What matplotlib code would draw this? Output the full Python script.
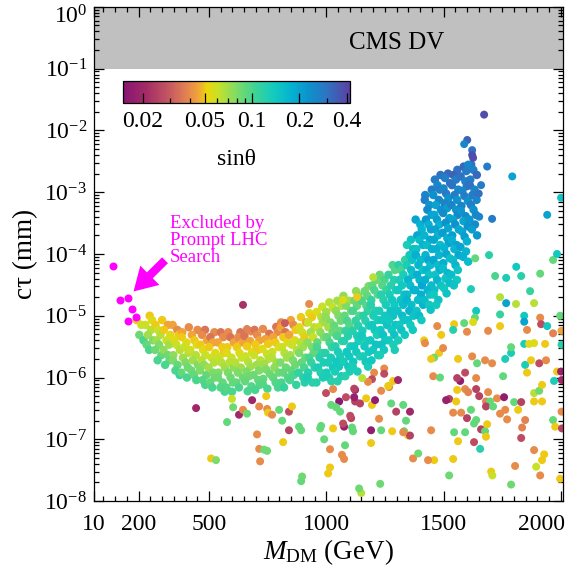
import matplotlib
matplotlib.use('Agg')
import matplotlib.pyplot as plt
import matplotlib.transforms as mtransforms
from matplotlib.colors import LinearSegmentedColormap, LogNorm
from matplotlib.patches import FancyArrowPatch
from matplotlib.ticker import FixedLocator, MultipleLocator, NullFormatter

plt.rcParams['font.family'] = 'Liberation Serif'
plt.rcParams['mathtext.fontset'] = 'custom'
plt.rcParams['mathtext.rm'] = 'Liberation Serif'
plt.rcParams['mathtext.it'] = 'Liberation Serif:italic'

# dense band of points (mass in GeV, ctau in mm, sin theta)
band_mass = [
    192, 212, 203, 221,
    247, 257, 229, 253, 240, 262, 234, 245,
    300, 272, 283, 293, 276, 287, 270, 297, 281,
    325, 308, 335, 319, 330, 306, 326, 332, 313,
    345, 365, 371, 352, 361, 376, 348, 346, 366, 357, 375,
    414, 386, 384, 404, 395, 413, 389, 400, 410, 382, 406,
    451, 427, 438, 448, 420, 444, 431, 453, 425, 436, 446,
    483, 470, 492, 464, 475, 485, 468, 479, 462, 489, 473, 484,
    523, 506, 517, 500, 527, 511, 522, 498, 518, 524, 505, 514,
    550, 561, 537, 557, 563, 544, 553, 568, 540, 538, 558, 549, 567,
    582, 591, 606, 578, 576, 596, 587, 605, 581, 592, 602, 574, 598,
    634, 625, 643, 619, 630, 640, 612, 636, 623, 645, 617, 628,
    679, 651, 675, 662, 684, 656, 667, 677, 660, 671, 654, 681, 665,
    694, 705, 715, 698, 709, 692, 719, 703, 714, 690, 710, 716, 697,
    730, 757, 741, 752, 728, 748, 754, 735, 744, 759, 731, 729, 749,
    787, 793, 774, 783, 798, 770, 768, 788, 779, 797, 773, 784, 794,
    808, 806, 826, 817, 835, 811, 822, 832, 804, 828, 815, 837, 809, 820,
    849, 860, 870, 842, 866, 853, 875, 847, 858, 868, 851, 862, 845, 872,
    892, 914, 886, 897, 907, 890, 901, 884, 911, 895, 906, 882, 902, 908,
    928, 939, 922, 949, 933, 944, 920, 940, 946, 927, 936, 951, 923, 921, 941,
    983, 959, 979, 985, 966, 975, 990, 962, 960, 980, 971, 989, 965, 976, 986, 958,
    1013, 1028, 1000, 998, 1018, 1009, 1027, 1003, 1014, 1024, 996, 1020, 1007, 1029, 1001, 1012, 1022,
    1047, 1065, 1041, 1052, 1062, 1034, 1058, 1045, 1067, 1039, 1050, 1060, 1043, 1054, 1037, 1064, 1048,
    1073, 1097, 1084, 1106, 1078, 1089, 1099, 1082, 1093, 1076, 1103, 1087, 1098, 1074, 1094, 1100, 1081,
    1127, 1137, 1120, 1131, 1114, 1141, 1125, 1136, 1112, 1132, 1138, 1119, 1128, 1143, 1115, 1113, 1133,
    1180, 1164, 1175, 1151, 1171, 1177, 1158, 1167, 1182, 1154, 1152, 1172, 1163, 1181, 1157, 1168, 1178,
    1215, 1196, 1205, 1220, 1192, 1190, 1210, 1201, 1219, 1195, 1206, 1216, 1188, 1212, 1199, 1221, 1193,
    1228, 1248, 1239, 1257, 1233, 1244, 1254, 1226, 1250, 1237, 1259, 1231, 1242, 1252, 1235, 1246, 1229,
    1283, 1293, 1265, 1289, 1276, 1298, 1270, 1281, 1291, 1274, 1285, 1268, 1295, 1279, 1290, 1266, 1286, 1292,
    1336, 1308, 1319, 1329, 1312, 1323, 1306, 1333, 1317, 1328, 1304, 1324, 1330, 1311, 1320, 1335, 1307,
    1361, 1344, 1371, 1355, 1366, 1342, 1362, 1368, 1349, 1358, 1373, 1345, 1343, 1363, 1354, 1372, 1348, 1359, 1369,
    1381, 1401, 1407, 1388, 1397, 1412, 1384, 1382, 1402, 1393, 1411, 1387, 1398, 1408, 1380, 1404, 1391, 1413, 1385, 1396, 1406,
    1450, 1422, 1420, 1440, 1431, 1449, 1425, 1436, 1446, 1418, 1442, 1429, 1451, 1423, 1434, 1444, 1427, 1438, 1421, 1448, 1432, 1443, 1419, 1439, 1445,
    1487, 1463, 1474, 1484, 1456, 1480, 1467, 1489, 1461, 1472, 1482, 1465, 1476, 1459, 1486, 1470, 1481, 1457, 1477, 1483, 1464, 1473, 1488, 1460, 1458, 1478, 1469,
    1519, 1506, 1528, 1500, 1511, 1521, 1504, 1515, 1498, 1525, 1509, 1520, 1496, 1516, 1522, 1503, 1512, 1527, 1499, 1497, 1517, 1508, 1526, 1502, 1513,
    1559, 1542, 1553, 1536, 1563, 1547, 1558, 1534, 1554, 1560, 1541, 1550, 1565, 1537, 1535, 1555, 1546, 1564, 1540, 1551, 1561, 1533, 1557, 1544,
    1586, 1597, 1573, 1593, 1599, 1580, 1589, 1604, 1576, 1574, 1594, 1585, 1603, 1579, 1590, 1600, 1572, 1596, 1583, 1605,
    1618, 1627, 1642, 1614, 1612, 1632, 1623, 1641, 1617, 1628, 1638, 1610, 1634, 1621, 1643,
]
band_ctau = [
    8.5e-6, 7.1e-6, 4.9e-6, 4.0e-6,
    1.0e-5, 8.5e-6, 7.1e-6, 5.9e-6, 4.9e-6, 4.0e-6, 3.4e-6, 2.8e-6,
    8.5e-6, 7.1e-6, 5.9e-6, 4.9e-6, 4.0e-6, 3.4e-6, 2.8e-6, 2.3e-6, 1.9e-6,
    7.1e-6, 5.9e-6, 4.9e-6, 4.0e-6, 3.4e-6, 2.8e-6, 2.3e-6, 1.9e-6, 1.6e-6,
    7.1e-6, 5.9e-6, 4.9e-6, 4.0e-6, 3.4e-6, 2.8e-6, 2.3e-6, 1.9e-6, 1.6e-6, 1.3e-6, 1.1e-6,
    6.5e-6, 5.4e-6, 4.5e-6, 3.7e-6, 3.1e-6, 2.5e-6, 2.1e-6, 1.75e-6, 1.45e-6, 1.2e-6, 1.0e-6,
    5.9e-6, 4.9e-6, 4.0e-6, 3.4e-6, 2.8e-6, 2.3e-6, 1.9e-6, 1.6e-6, 1.3e-6, 1.1e-6, 9.1e-7,
    5.9e-6, 4.9e-6, 4.0e-6, 3.4e-6, 2.8e-6, 2.3e-6, 1.9e-6, 1.6e-6, 1.3e-6, 1.1e-6, 9.1e-7, 7.6e-7,
    5.4e-6, 4.5e-6, 3.7e-6, 3.1e-6, 2.5e-6, 2.1e-6, 1.75e-6, 1.45e-6, 1.2e-6, 1.0e-6, 8.3e-7, 6.9e-7,
    5.4e-6, 4.5e-6, 3.7e-6, 3.1e-6, 2.5e-6, 2.1e-6, 1.75e-6, 1.45e-6, 1.2e-6, 1.0e-6, 8.3e-7, 6.9e-7, 5.9e-7,
    5.4e-6, 4.5e-6, 3.7e-6, 3.1e-6, 2.5e-6, 2.1e-6, 1.75e-6, 1.45e-6, 1.2e-6, 1.0e-6, 8.3e-7, 6.9e-7, 5.9e-7,
    5.4e-6, 4.5e-6, 3.7e-6, 3.1e-6, 2.5e-6, 2.1e-6, 1.75e-6, 1.45e-6, 1.2e-6, 1.0e-6, 8.3e-7, 6.9e-7,
    5.6e-6, 4.7e-6, 3.9e-6, 3.2e-6, 2.6e-6, 2.2e-6, 1.8e-6, 1.5e-6, 1.25e-6, 1.05e-6, 8.7e-7, 7.2e-7, 6.0e-7,
    5.9e-6, 4.9e-6, 4.0e-6, 3.4e-6, 2.8e-6, 2.3e-6, 1.9e-6, 1.6e-6, 1.3e-6, 1.1e-6, 9.1e-7, 7.6e-7, 6.3e-7,
    6.1e-6, 5.1e-6, 4.2e-6, 3.5e-6, 2.9e-6, 2.4e-6, 2.0e-6, 1.65e-6, 1.35e-6, 1.15e-6, 9.5e-7, 7.9e-7, 6.6e-7,
    6.6e-6, 5.5e-6, 4.5e-6, 3.7e-6, 3.1e-6, 2.6e-6, 2.1e-6, 1.75e-6, 1.45e-6, 1.2e-6, 1.0e-6, 8.3e-7, 6.9e-7,
    7.8e-6, 6.5e-6, 5.4e-6, 4.5e-6, 3.7e-6, 3.1e-6, 2.5e-6, 2.1e-6, 1.75e-6, 1.45e-6, 1.2e-6, 1.0e-6, 8.3e-7, 6.9e-7,
    8.5e-6, 7.1e-6, 5.9e-6, 4.9e-6, 4.0e-6, 3.4e-6, 2.8e-6, 2.3e-6, 1.9e-6, 1.6e-6, 1.3e-6, 1.1e-6, 9.1e-7, 7.6e-7,
    9.5e-6, 7.8e-6, 6.5e-6, 5.4e-6, 4.5e-6, 3.7e-6, 3.1e-6, 2.5e-6, 2.1e-6, 1.75e-6, 1.45e-6, 1.2e-6, 1.0e-6, 8.3e-7,
    1.1e-5, 9.5e-6, 7.8e-6, 6.5e-6, 5.4e-6, 4.5e-6, 3.7e-6, 3.1e-6, 2.5e-6, 2.1e-6, 1.75e-6, 1.45e-6, 1.2e-6, 1.0e-6, 8.3e-7,
    1.4e-5, 1.15e-5, 9.5e-6, 7.8e-6, 6.5e-6, 5.4e-6, 4.5e-6, 3.7e-6, 3.1e-6, 2.5e-6, 2.1e-6, 1.75e-6, 1.45e-6, 1.2e-6, 1.0e-6, 8.3e-7,
    1.65e-5, 1.35e-5, 1.15e-5, 9.5e-6, 7.8e-6, 6.5e-6, 5.4e-6, 4.5e-6, 3.7e-6, 3.1e-6, 2.5e-6, 2.1e-6, 1.75e-6, 1.45e-6, 1.2e-6, 1.0e-6, 8.7e-7,
    1.75e-5, 1.45e-5, 1.2e-5, 1.0e-5, 8.3e-6, 6.9e-6, 5.7e-6, 4.7e-6, 3.9e-6, 3.2e-6, 2.6e-6, 2.2e-6, 1.8e-6, 1.5e-6, 1.25e-6, 1.05e-6, 8.7e-7,
    2.1e-5, 1.75e-5, 1.45e-5, 1.2e-5, 1.0e-5, 8.3e-6, 6.9e-6, 5.7e-6, 4.7e-6, 3.9e-6, 3.2e-6, 2.6e-6, 2.2e-6, 1.8e-6, 1.5e-6, 1.25e-6, 1.05e-6,
    2.5e-5, 2.1e-5, 1.75e-5, 1.45e-5, 1.2e-5, 1.0e-5, 8.3e-6, 6.9e-6, 5.7e-6, 4.7e-6, 3.9e-6, 3.2e-6, 2.6e-6, 2.2e-6, 1.8e-6, 1.5e-6, 1.25e-6,
    3.0e-5, 2.5e-5, 2.1e-5, 1.75e-5, 1.45e-5, 1.2e-5, 1.0e-5, 8.3e-6, 6.9e-6, 5.7e-6, 4.7e-6, 3.9e-6, 3.2e-6, 2.6e-6, 2.2e-6, 1.8e-6, 1.5e-6,
    3.8e-5, 3.1e-5, 2.6e-5, 2.2e-5, 1.8e-5, 1.5e-5, 1.2e-5, 1.0e-5, 8.5e-6, 7.1e-6, 5.9e-6, 4.9e-6, 4.0e-6, 3.4e-6, 2.8e-6, 2.3e-6, 1.9e-6,
    4.6e-5, 3.8e-5, 3.1e-5, 2.6e-5, 2.2e-5, 1.8e-5, 1.5e-5, 1.2e-5, 1.0e-5, 8.5e-6, 7.1e-6, 5.9e-6, 4.9e-6, 4.0e-6, 3.4e-6, 2.8e-6, 2.3e-6,
    6.6e-5, 5.5e-5, 4.6e-5, 3.8e-5, 3.1e-5, 2.6e-5, 2.2e-5, 1.8e-5, 1.5e-5, 1.2e-5, 1.0e-5, 8.5e-6, 7.1e-6, 5.9e-6, 4.9e-6, 4.0e-6, 3.4e-6, 2.8e-6,
    8.0e-5, 6.6e-5, 5.5e-5, 4.6e-5, 3.8e-5, 3.1e-5, 2.6e-5, 2.2e-5, 1.8e-5, 1.5e-5, 1.2e-5, 1.0e-5, 8.5e-6, 7.1e-6, 5.9e-6, 4.9e-6, 4.0e-6,
    1.7e-4, 1.4e-4, 1.2e-4, 9.6e-5, 8.0e-5, 6.6e-5, 5.5e-5, 4.6e-5, 3.8e-5, 3.1e-5, 2.6e-5, 2.2e-5, 1.8e-5, 1.5e-5, 1.2e-5, 1.0e-5, 8.5e-6, 7.1e-6, 5.9e-6,
    3.6e-4, 3.0e-4, 2.5e-4, 2.0e-4, 1.7e-4, 1.4e-4, 1.2e-4, 9.6e-5, 8.0e-5, 6.6e-5, 5.5e-5, 4.6e-5, 3.8e-5, 3.1e-5, 2.6e-5, 2.2e-5, 1.8e-5, 1.5e-5, 1.2e-5, 1.0e-5, 8.5e-6,
    1.1e-3, 9.0e-4, 7.5e-4, 6.2e-4, 5.2e-4, 4.3e-4, 3.6e-4, 3.0e-4, 2.5e-4, 2.0e-4, 1.7e-4, 1.4e-4, 1.2e-4, 9.6e-5, 8.0e-5, 6.6e-5, 5.5e-5, 4.6e-5, 3.8e-5, 3.1e-5, 2.6e-5, 2.2e-5, 1.8e-5, 1.5e-5, 1.25e-5,
    1.9e-3, 1.6e-3, 1.3e-3, 1.1e-3, 9.0e-4, 7.5e-4, 6.2e-4, 5.2e-4, 4.3e-4, 3.6e-4, 3.0e-4, 2.5e-4, 2.0e-4, 1.7e-4, 1.4e-4, 1.2e-4, 9.6e-5, 8.0e-5, 6.6e-5, 5.5e-5, 4.6e-5, 3.8e-5, 3.1e-5, 2.6e-5, 2.2e-5, 1.8e-5, 1.5e-5,
    2.0e-3, 1.7e-3, 1.4e-3, 1.15e-3, 9.5e-4, 8.0e-4, 6.6e-4, 5.5e-4, 4.6e-4, 3.8e-4, 3.2e-4, 2.6e-4, 2.2e-4, 1.8e-4, 1.5e-4, 1.25e-4, 1.0e-4, 8.5e-5, 7.1e-5, 5.9e-5, 4.9e-5, 4.0e-5, 3.4e-5, 2.8e-5, 2.3e-5,
    2.3e-3, 1.9e-3, 1.6e-3, 1.3e-3, 1.1e-3, 9.0e-4, 7.5e-4, 6.2e-4, 5.2e-4, 4.3e-4, 3.6e-4, 3.0e-4, 2.5e-4, 2.0e-4, 1.7e-4, 1.4e-4, 1.2e-4, 9.6e-5, 8.0e-5, 6.6e-5, 5.5e-5, 4.6e-5, 3.8e-5, 3.1e-5,
    2.6e-3, 2.2e-3, 1.8e-3, 1.5e-3, 1.25e-3, 1.05e-3, 8.7e-4, 7.2e-4, 6.0e-4, 5.0e-4, 4.1e-4, 3.4e-4, 2.8e-4, 2.3e-4, 1.9e-4, 1.6e-4, 1.3e-4, 1.1e-4, 9.0e-5, 7.5e-5,
    2.8e-3, 2.3e-3, 1.9e-3, 1.6e-3, 1.3e-3, 1.1e-3, 9.0e-4, 7.5e-4, 6.2e-4, 5.2e-4, 4.3e-4, 3.6e-4, 3.0e-4, 2.5e-4, 2.0e-4,
]
band_sin = [
    .05, .06, .085, .1,
    .05, .055, .06, .065, .07, .08, .09, .1,
    .05, .05, .06, .065, .07, .08, .085, .09, .1,
    .045, .05, .055, .06, .07, .075, .085, .09, .1,
    .045, .04, .05, .055, .06, .065, .075, .08, .09, .1, .11,
    .04, .045, .05, .055, .06, .065, .07, .08, .085, .09, .1,
    .04, .045, .05, .055, .06, .065, .07, .08, .085, .09, .1,
    .035, .04, .045, .05, .055, .06, .065, .075, .08, .09, .095, .1,
    .04, .035, .045, .05, .055, .06, .065, .07, .08, .085, .09, .1,
    .035, .04, .045, .05, .05, .06, .065, .07, .08, .085, .09, .095, .1,
    .04, .035, .045, .05, .055, .06, .065, .075, .08, .085, .09, .095, .1,
    .035, .04, .045, .05, .055, .06, .065, .07, .08, .085, .09, .1,
    .04, .035, .045, .05, .055, .06, .065, .07, .08, .085, .09, .095, .1,
    .035, .04, .045, .05, .05, .06, .065, .07, .08, .085, .09, .095, .1,
    .04, .035, .045, .05, .055, .06, .065, .07, .08, .085, .09, .095, .1,
    .035, .04, .045, .05, .055, .06, .065, .07, .075, .085, .09, .095, .1,
    .04, .045, .035, .05, .055, .06, .065, .07, .08, .085, .09, .095, .1, .11,
    .045, .04, .05, .045, .055, .06, .065, .07, .08, .085, .09, .1, .1, .11,
    .05, .045, .055, .06, .05, .065, .07, .08, .085, .09, .1, .11, .12, .12,
    .055, .05, .06, .065, .07, .06, .075, .08, .09, .1, .11, .12, .12, .13, .12,
    .06, .055, .065, .07, .06, .075, .08, .09, .1, .11, .12, .13, .13, .12, .13, .12,
    .065, .06, .07, .075, .08, .07, .085, .09, .1, .11, .12, .13, .13, .14, .13, .13, .12,
    .07, .065, .075, .08, .085, .09, .09, .1, .11, .12, .13, .13, .14, .14, .13, .13, .12,
    .075, .07, .08, .085, .09, .1, .095, .11, .12, .12, .13, .14, .14, .13, .14, .13, .12,
    .075, .08, .085, .09, .1, .095, .11, .12, .12, .13, .13, .14, .14, .13, .14, .13, .13,
    .08, .085, .09, .1, .095, .11, .12, .12, .13, .13, .14, .13, .14, .14, .13, .14, .13,
    .085, .09, .1, .095, .11, .12, .12, .13, .13, .14, .14, .13, .14, .15, .14, .13, .14,
    .09, .1, .095, .11, .12, .12, .13, .13, .14, .14, .15, .14, .15, .14, .15, .14, .13,
    .1, .095, .11, .12, .12, .13, .13, .14, .14, .15, .15, .14, .15, .14, .15, .14, .13, .13,
    .11, .12, .1, .13, .13, .14, .14, .15, .15, .16, .15, .16, .15, .14, .15, .14, .13,
    .15, .13, .16, .14, .15, .13, .16, .15, .17, .16, .18, .16, .17, .16, .17, .15, .15, .14, .14,
    .2, .18, .17, .19, .16, .17, .15, .18, .16, .17, .15, .18, .17, .19, .17, .18, .16, .17, .15, .16, .14,
    .28, .25, .27, .22, .24, .2, .22, .18, .2, .17, .19, .16, .18, .17, .19, .16, .17, .15, .18, .16, .17, .15, .16, .14, .15,
    .3, .28, .25, .27, .23, .25, .2, .22, .19, .21, .18, .2, .17, .19, .16, .18, .17, .19, .16, .18, .15, .17, .15, .16, .14, .15, .14,
    .32, .27, .3, .25, .28, .23, .26, .21, .24, .2, .23, .19, .21, .18, .2, .17, .19, .16, .18, .16, .17, .15, .16, .14, .15,
    .3, .33, .27, .3, .25, .28, .23, .26, .22, .25, .2, .23, .19, .21, .18, .2, .17, .19, .16, .17, .15, .16, .14, .15,
    .32, .28, .3, .26, .29, .25, .27, .23, .26, .22, .24, .2, .23, .19, .21, .18, .2, .17, .18, .16,
    .3, .27, .32, .28, .3, .26, .28, .25, .27, .23, .25, .22, .24, .21, .22,
]

# scattered points away from the band
scat_mass = [
    927, 1639, 1767, 1809, 1886, 1741, 1844, 1844, 1912, 1997,
    1634, 1473, 1545, 1588, 1626, 1600, 1541, 1490, 1690, 1741,
    1856, 1916, 1942, 1967, 2003, 1417, 1421, 1481, 1498, 1460,
    1447, 1562, 1622, 1643, 1677, 1707, 1763, 1788, 1788, 1844,
    1865, 1886, 1933, 1848, 1856, 1873, 1908, 1937, 1984, 2001,
    1456, 1485, 1592, 1571, 1558, 1639, 1754, 1558, 1592, 1605,
    1639, 1652, 1690, 1681, 1698, 1728, 1758, 1801, 1831, 1681,
    1711, 1763, 1818, 1886, 1908, 1920, 1886, 1920, 1971, 2004,
    1524, 1511, 1554, 1541, 1575, 1600, 1617, 1639, 1630, 1660,
    1677, 1681, 1630, 1656, 1592, 1545, 1562, 1686, 1771, 1741,
    1848, 1835, 1831, 1967, 1976, 2005, 1886, 1929, 1920, 1895,
    1912, 1997, 1805, 1703, 1708, 1788, 1524, 1460, 1434, 1370,
    1541, 1392, 1447, 1332, 1349, 1357, 1328, 1281, 1234, 1340,
    1357, 1298, 1328, 1277, 1191, 1225, 1195, 1208, 1234, 1268,
    1285, 1264, 1306, 1247, 1247, 1204, 1195, 1178, 1170, 1144,
    1123, 1123, 1055, 1021, 1059, 1106, 1076, 1114, 1029, 999,
    1029, 991, 974, 1016, 1076, 1080, 1191, 1016, 1008, 1230,
    1149, 893, 893, 1153, 645, 445, 684, 628, 645, 598,
    603, 662, 577, 714, 748, 752, 769, 744, 799, 812,
    841, 841, 854, 884, 816, 705, 714, 735, 748, 718,
    509, 530, 897, 978, 1067, 1072, 1110, 1102, 1084, 1119,
    1119, 1042, 1140, 824, 662, 1131, 1200, 1072, 2003, 2003,
    1635, 1694, 1810, 1912, 1831, 1767, 1720, 1869, 1741, 1617,
    1967, 1984, 1942, 1793, 1686, 1707, 1652, 2001, 1673, 1601,
    1588, 1622, 1622, 1626, 1605, 1660, 1650,
]
scat_ctau = [
    1.55e-5, 1.2e-5, 1.6e-5, 1.55e-5, 1.6e-5, 1.05e-5, 1.0e-5, 8.0e-6, 9.3e-6, 1.0e-5,
    9.3e-6, 6.8e-6, 7.3e-6, 7.6e-6, 7.9e-6, 5.5e-6, 5.9e-6, 4.9e-6, 5.7e-6, 6.8e-6,
    5.9e-6, 7.3e-6, 6.8e-6, 5.2e-6, 5.7e-6, 4.0e-6, 3.6e-6, 2.5e-6, 3.0e-6, 2.1e-6,
    2.0e-6, 2.0e-6, 2.2e-6, 1.7e-6, 1.9e-6, 1.7e-6, 2.0e-6, 2.5e-6, 3.1e-6, 3.5e-6,
    3.5e-6, 3.6e-6, 3.5e-6, 1.6e-6, 1.2e-6, 1.9e-6, 1.7e-6, 1.9e-6, 1.25e-6, 1.25e-6,
    1.05e-6, 1.0e-6, 1.2e-6, 8.8e-7, 9.8e-7, 9.8e-7, 1.05e-6, 6.3e-7, 6.5e-7, 5.8e-7,
    6.5e-7, 5.0e-7, 5.8e-7, 4.1e-7, 4.1e-7, 4.6e-7, 4.8e-7, 4.0e-7, 4.0e-7, 3.4e-7,
    3.4e-7, 3.0e-7, 3.0e-7, 5.6e-7, 6.1e-7, 7.6e-7, 4.1e-7, 4.1e-7, 8.8e-7, 9.1e-7,
    4.5e-7, 4.3e-7, 4.1e-7, 2.7e-7, 2.7e-7, 2.2e-7, 3.0e-7, 2.05e-7, 1.8e-7, 1.45e-7,
    1.35e-7, 1.1e-7, 9.0e-8, 7.0e-8, 1.3e-7, 1.3e-7, 9.3e-8, 1.75e-7, 2.1e-7, 2.6e-7,
    2.05e-7, 1.55e-7, 1.05e-7, 2.05e-7, 1.6e-7, 1.5e-7, 6.7e-8, 5.7e-8, 4.6e-8, 3.6e-8,
    2.6e-8, 2.3e-8, 3.7e-8, 3.0e-8, 2.6e-8, 1.85e-8, 2.6e-8, 4.6e-8, 4.6e-8, 4.9e-8,
    4.8e-8, 5.9e-8, 1.4e-7, 1.35e-7, 1.15e-7, 1.15e-7, 1.3e-7, 1.35e-7, 1.4e-7, 2.0e-7,
    2.8e-7, 2.8e-7, 3.6e-7, 3.8e-7, 1.4e-7, 2.15e-7, 3.6e-7, 4.3e-7, 6.1e-7, 7.0e-7,
    8.8e-7, 7.3e-7, 9.1e-7, 1.4e-6, 1.15e-6, 1.2e-6, 9.4e-7, 8.5e-7, 4.6e-7, 3.8e-7,
    4.1e-7, 6.3e-7, 4.1e-7, 3.6e-7, 2.8e-7, 2.2e-7, 1.6e-7, 1.35e-7, 6.5e-7, 5.6e-7,
    1.5e-7, 1.0e-7, 1.5e-7, 6.9e-8, 4.8e-8, 8.0e-8, 8.7e-8, 3.5e-8, 2.8e-8, 1.9e-8,
    1.35e-8, 2.1e-8, 1.4e-7, 9.8e-7, 1.5e-5, 3.2e-7, 4.3e-7, 2.5e-7, 3.0e-7, 4.5e-7,
    3.3e-7, 2.6e-7, 1.9e-7, 3.4e-7, 3.1e-7, 2.7e-7, 2.5e-7, 5.0e-7, 3.0e-7, 2.0e-7,
    2.8e-7, 1.4e-7, 3.4e-7, 1.6e-7, 9.0e-8, 1.2e-7, 7.0e-8, 6.8e-8, 6.5e-8, 4.4e-8,
    4.9e-8, 4.6e-8, 2.5e-8, 1.65e-7, 5.6e-8, 1.8e-7, 1.55e-7, 2.4e-7, 4.8e-7, 6.6e-7,
    4.8e-7, 3.3e-7, 1.6e-8, 7.6e-6, 6.1e-6, 2.0e-5, 4.2e-5, 1.8e-5, 2.8e-7, 3.4e-6,
    8.5e-5, 9.6e-5, 6.2e-5, 4.8e-5, 4.4e-5, 4.1e-5, 4.4e-5, 2.5e-5, 2.0e-5, 2.7e-5,
    8.0e-5, 1.0e-4, 4.3e-4, 1.8e-3, 2.6e-3, 3.7e-4, 4.0e-4, 8.1e-4, 1.8e-2, 7.0e-3,
    6.0e-3, 4.8e-3, 4.0e-3, 3.6e-3, 2.8e-3, 1.3e-3, 9.5e-4,
]
scat_sin = [
    .04, .14, .2, .065, .065, .11, .14, .2, .04, .09,
    .09, .04, .05, .09, .055, .04, .12, .05, .04, .05,
    .04, .027, .14, .038, .045, .05, .04, .05, .04, .085,
    .05, .05, .04, .09, .04, .04, .13, .13, .09, .13,
    .055, .055, .05, .13, .05, .05, .027, .04, .05, .018,
    .04, .09, .027, .017, .025, .04, .09, .05, .04, .038,
    .025, .025, .04, .038, .09, .04, .017, .09, .025, .025,
    .09, .04, .05, .065, .085, .05, .05, .05, .13, .02,
    .025, .018, .05, .04, .04, .025, .09, .09, .09, .025,
    .09, .05, .027, .12, .09, .09, .05, .05, .04, .04,
    .038, .038, .027, .09, .05, .025, .04, .05, .05, .06,
    .04, .05, .04, .05, .06, .085, .085, .05, .04, .04,
    .05, .085, .04, .09, .05, .025, .04, .05, .09, .09,
    .02, .025, .09, .09, .017, .04, .05, .017, .04, .04,
    .05, .05, .02, .04, .027, .04, .027, .04, .05, .025,
    .025, .02, .016, .09, .09, .025, .018, .09, .04, .027,
    .05, .09, .085, .04, .04, .09, .05, .05, .05, .085,
    .065, .09, .09, .065, .022, .02, .02, .02, .04, .06,
    .085, .085, .09, .04, .04, .05, .04, .05, .09, .09,
    .027, .025, .05, .09, .05, .04, .04, .085, .085, .04,
    .05, .08, .085, .09, .04, .027, .09, .027, .027, .025,
    .018, .09, .085, .03, .038, .05, .065, .055, .04, .12,
    .09, .12, .14, .09, .12, .13, .1, .11, .065, .13,
    .09, .14, .2, .2, .28, .28, .25, .15, .38, .33,
    .25, .3, .38, .38, .25, .28, .3,
]

# points excluded by the prompt LHC search
excl_mass = [91, 121, 155, 172, 155, 189]
excl_ctau = [6.4e-5, 1.8e-5, 1.95e-5, 1.3e-5, 8.2e-6, 9.5e-6]

x_ticks = [10, 200, 500, 1000, 1500, 2000]
y_ticks = [1e-8, 1e-7, 1e-6, 1e-5, 1e-4, 1e-3, 1e-2, 1e-1, 1e0]
y_labels = [r'$10^{-8}$', r'$10^{-7}$', r'$10^{-6}$', r'$10^{-5}$', r'$10^{-4}$',
            r'$10^{-3}$', r'$10^{-2}$', r'$10^{-1}$', r'$10^{0}$']
cbar_ticks = [0.02, 0.05, 0.1, 0.2, 0.4]
cbar_labels = ['0.02', '0.05', '0.1', '0.2', '0.4']
cbar_minor = [0.03, 0.04, 0.06, 0.07, 0.08, 0.09, 0.3]

assert len(band_mass) == len(band_ctau) == len(band_sin)
assert len(scat_mass) == len(scat_ctau) == len(scat_sin)

cmap = LinearSegmentedColormap.from_list('sin_map', [
    (0.00, (0.53, 0.08, 0.45)),
    (0.10, (0.64, 0.17, 0.40)),
    (0.20, (0.77, 0.34, 0.38)),
    (0.28, (0.89, 0.51, 0.32)),
    (0.33, (0.94, 0.64, 0.22)),
    (0.37, (0.93, 0.84, 0.05)),
    (0.42, (0.78, 0.88, 0.16)),
    (0.50, (0.50, 0.86, 0.40)),
    (0.58, (0.25, 0.83, 0.58)),
    (0.66, (0.08, 0.80, 0.74)),
    (0.74, (0.02, 0.70, 0.82)),
    (0.82, (0.05, 0.57, 0.80)),
    (0.90, (0.18, 0.45, 0.76)),
    (1.00, (0.36, 0.25, 0.64)),
])
norm = LogNorm(vmin=0.015, vmax=0.42)

fig = plt.figure(figsize=(5.7, 5.72), dpi=100)
ax = fig.add_axes([0.165, 0.124, 0.823, 0.864])

ax.axhspan(0.1, 1, color='#c0c0c0', lw=0, zorder=0)
sc = ax.scatter(band_mass, band_ctau, c=band_sin, cmap=cmap, norm=norm,
                s=37, linewidths=0, zorder=2)
ax.scatter(scat_mass, scat_ctau, c=scat_sin, cmap=cmap, norm=norm,
           s=33, linewidths=0, zorder=2)
ax.scatter(excl_mass, excl_ctau, color='#ff00ff', s=33, linewidths=0, zorder=3)

ax.set_yscale('log')
ax.set_xlim(10, 2010)
ax.set_ylim(1e-8, 1)

ax.set_yticks(y_ticks, labels=y_labels)
ax.yaxis.set_minor_locator(FixedLocator(
    [m * 10.0 ** e for e in range(-8, 0) for m in range(2, 10)]))
ax.yaxis.set_minor_formatter(NullFormatter())
ax.set_xticks(x_ticks, labels=[str(t) for t in x_ticks])
ax.xaxis.set_minor_locator(MultipleLocator(50))

ax.tick_params(which='both', direction='in', top=True, right=True, width=0.9,
               labelsize=17)
ax.tick_params(which='major', length=7)
ax.tick_params(which='minor', length=3.5)
ax.tick_params(axis='x', pad=9)
ax.tick_params(axis='y', pad=5)
for sp in ax.spines.values():
    sp.set_linewidth(0.9)

# keep the two corner labels inside the figure
last = ax.get_xticklabels()[-1]
last.set_transform(last.get_transform() +
                   mtransforms.ScaledTranslation(-0.19, 0, fig.dpi_scale_trans))
top = ax.get_yticklabels()[-1]
top.set_transform(top.get_transform() +
                  mtransforms.ScaledTranslation(0, -0.08, fig.dpi_scale_trans))

ax.set_xlabel(r'$M_{\rm DM}$ (GeV)', fontsize=19.5, labelpad=2)
ax.set_ylabel('cτ (mm)', fontsize=19.5, labelpad=4)

ax.text(1302, 0.26, 'CMS DV', fontsize=18, ha='center', va='center')

ax.text(334, 4.2e-4, 'Excluded by\nPrompt LHC\nSearch', color='#ff00ff',
        fontsize=13.5, ha='left', va='top', linespacing=1.0)
arrow = FancyArrowPatch((321, 8.5e-5), (170, 2.3e-5),
                        arrowstyle='simple,head_length=1.1,head_width=1.3,tail_width=0.4',
                        mutation_scale=15, color='#ff00ff', lw=0, zorder=4)
ax.add_patch(arrow)

cax = fig.add_axes([0.2158, 0.82, 0.398, 0.0385])
cb = fig.colorbar(sc, cax=cax, orientation='horizontal')
cb.outline.set_linewidth(0.9)
cb.set_ticks(cbar_ticks, labels=cbar_labels)
cb.set_ticks(cbar_minor, minor=True)
cax.xaxis.set_minor_formatter(NullFormatter())
cax.tick_params(which='both', direction='in', bottom=True, top=False,
                labelsize=17, pad=6, width=0.9)
cax.tick_params(which='major', length=7)
cax.tick_params(which='minor', length=3.5)
cb.set_label('sinθ', fontsize=17, labelpad=12)

fig.savefig('out.png', dpi=100)
